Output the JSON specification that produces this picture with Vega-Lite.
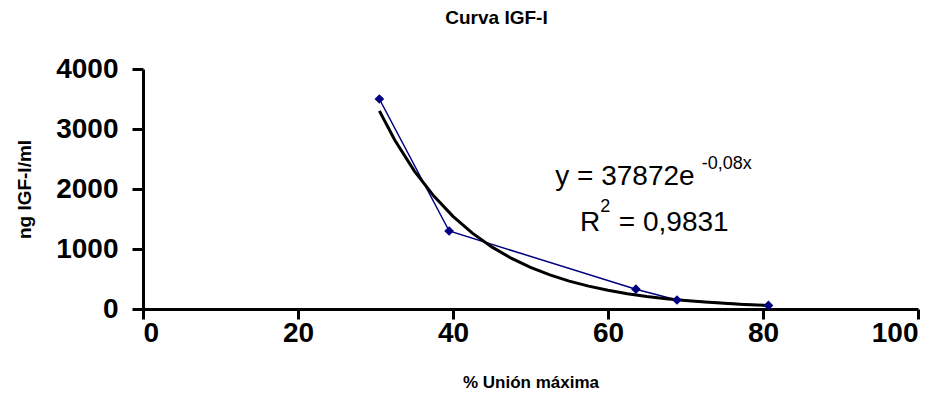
{
  "$schema": "https://vega.github.io/schema/vega-lite/v6.json",
  "width": 775,
  "height": 240,
  "autosize": "none",
  "padding": {"left": 143, "top": 69, "right": 28, "bottom": 106},
  "background": "white",
  "title": {"text": "Curva IGF-I", "font": "Liberation Sans", "fontSize": 19, "fontWeight": "bold", "color": "black", "anchor": "middle", "frame": "group", "dx": -34, "offset": 27},
  "config": {
    "view": {"stroke": null},
    "axis": {"grid": false, "domainColor": "black", "domainWidth": 3, "tickColor": "black", "tickWidth": 3, "labelFont": "Liberation Sans", "labelFontWeight": "bold", "labelColor": "black", "titleFont": "Liberation Sans", "titleFontWeight": "bold", "titleColor": "black"}
  },
  "datasets": {
    "obs": [
      {"x": 30.5, "y": 3500},
      {"x": 39.5, "y": 1300},
      {"x": 63.6, "y": 330},
      {"x": 68.9, "y": 150},
      {"x": 80.7, "y": 60}
    ],
    "fit": [
      {"x": 30.5, "y": 3302},
      {"x": 32.5, "y": 2813},
      {"x": 35, "y": 2303},
      {"x": 37.5, "y": 1886},
      {"x": 40, "y": 1544},
      {"x": 42.5, "y": 1264},
      {"x": 45, "y": 1035},
      {"x": 47.5, "y": 847},
      {"x": 50, "y": 694},
      {"x": 52.5, "y": 568},
      {"x": 55, "y": 465},
      {"x": 57.5, "y": 381},
      {"x": 60, "y": 312},
      {"x": 62.5, "y": 255},
      {"x": 65, "y": 209},
      {"x": 67.5, "y": 171},
      {"x": 70, "y": 140},
      {"x": 72.5, "y": 115},
      {"x": 75, "y": 94},
      {"x": 77.5, "y": 77},
      {"x": 81, "y": 58}
    ],
    "notes": [
      {"label": "y = 37872e", "x": 53.2, "y": 2060},
      {"label": "R", "x": 56.4, "y": 1300},
      {"label": "= 0,9831", "x": 61.4, "y": 1300}
    ],
    "sups": [
      {"label": "-0,08x", "x": 72.1, "y": 2330},
      {"label": "2", "x": 59.0, "y": 1620}
    ]
  },
  "layer": [
    {
      "data": {"name": "obs"},
      "mark": {"type": "line", "color": "#000080", "strokeWidth": 1.5},
      "encoding": {
        "x": {"field": "x", "type": "quantitative", "scale": {"domain": [0, 100]}, "axis": {"values": [0, 20, 40, 60, 80, 100], "format": "d", "tickSize": 10, "labelFontSize": 28, "labelPadding": 0, "title": "% Unión máxima", "titleFontSize": 17, "titlePadding": 27}},
        "y": {"field": "y", "type": "quantitative", "scale": {"domain": [0, 4000]}, "axis": {"values": [0, 1000, 2000, 3000, 4000], "format": "d", "tickSize": 11, "labelFontSize": 28, "labelPadding": 14, "title": "ng IGF-I/ml", "titleFontSize": 19, "titlePadding": 21}}
      }
    },
    {
      "data": {"name": "fit"},
      "mark": {"type": "line", "color": "black", "strokeWidth": 3},
      "encoding": {
        "x": {"field": "x", "type": "quantitative"},
        "y": {"field": "y", "type": "quantitative"}
      }
    },
    {
      "data": {"name": "obs"},
      "mark": {"type": "point", "shape": "diamond", "filled": true, "color": "#000080", "opacity": 1, "size": 95},
      "encoding": {
        "x": {"field": "x", "type": "quantitative"},
        "y": {"field": "y", "type": "quantitative"}
      }
    },
    {
      "data": {"name": "notes"},
      "mark": {"type": "text", "font": "Liberation Sans", "fontSize": 28, "color": "black", "align": "left", "baseline": "alphabetic"},
      "encoding": {
        "x": {"field": "x", "type": "quantitative"},
        "y": {"field": "y", "type": "quantitative"},
        "text": {"field": "label"}
      }
    },
    {
      "data": {"name": "sups"},
      "mark": {"type": "text", "font": "Liberation Sans", "fontSize": 18, "color": "black", "align": "left", "baseline": "alphabetic"},
      "encoding": {
        "x": {"field": "x", "type": "quantitative"},
        "y": {"field": "y", "type": "quantitative"},
        "text": {"field": "label"}
      }
    }
  ]
}
